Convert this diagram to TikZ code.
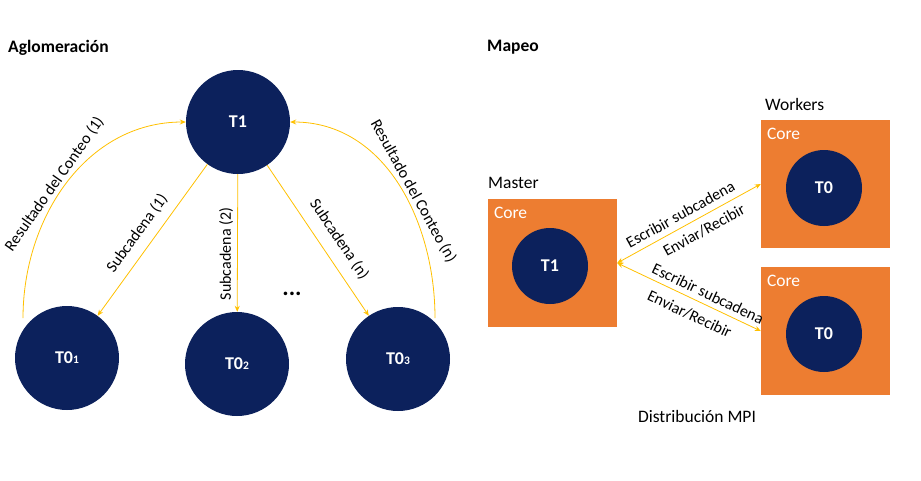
\documentclass[tikz,border=0pt]{standalone}
\usepackage{fontspec}
\setmainfont{Carlito}
\usetikzlibrary{arrows.meta}
\definecolor{navy}{HTML}{0C215C}
\definecolor{orng}{HTML}{ED7D31}
\definecolor{gold}{HTML}{FFC000}
\newcommand{\subn}[1]{{\fontsize{11.5}{11.5}\selectfont #1}}
\begin{document}
\begin{tikzpicture}[x=1pt,y=-1pt,
  task/.style={circle,fill=navy,minimum size=104pt,inner sep=0pt,text=white,font=\fontsize{18}{18}\selectfont\bfseries},
  smalltask/.style={task,minimum size=76pt},
  arr/.style={draw=gold,line width=0.8pt,-{Stealth[length=6pt,width=5pt]}},
  darr/.style={draw=gold,line width=0.8pt,{Stealth[length=6pt,width=5pt]}-{Stealth[length=6pt,width=5pt]}},
  lbl/.style={font=\fontsize{16}{16}\selectfont,inner sep=2pt},
  head/.style={font=\fontsize{17.5}{17.5}\selectfont\bfseries,inner sep=0pt},
  plain/.style={font=\fontsize{17.5}{17.5}\selectfont,inner sep=0pt},
  corebox/.style={rectangle,fill=orng,minimum width=129pt,minimum height=128pt,inner sep=0pt},
  corelbl/.style={font=\fontsize{17.5}{17.5}\selectfont,text=white,inner sep=0pt,anchor=north west}
]
\useasboundingbox (0,0) rectangle (921,480);

% ---------- Aglomeracion ----------
\node[head,anchor=west] (tagl) at (8,48) {Aglomeración};
\node[task] (T1) at (238,122) {T1};
\node[task] (A) at (67,358) {T0\subn{1}};
\node[task] (B) at (237,364) {T0\subn{2}};
\node[task] (C) at (398,359) {T0\subn{3}};
\node[font=\fontsize{24}{24}\selectfont\bfseries] (dots) at (292,294) {...};

\coordinate (s1) at (23,318);
\coordinate (s2) at (435,318);

\draw[arr] (T1) -- node[lbl,pos=0.52,sloped,above=7pt] {Subcadena (1)} (A);
\draw[arr] (T1) -- node[lbl,pos=0.58,rotate=90,anchor=south,inner sep=4pt] {Subcadena (2)} (B);
\draw[arr] (T1) -- node[lbl,pos=0.56,sloped,above=9pt] {Subcadena (n)} (C);
\draw[arr] (s1) to[out=90,in=180] node[lbl,pos=0.47,sloped,above] {Resultado del Conteo (1)} (T1.west);
\draw[arr] (s2) to[out=90,in=0] node[lbl,pos=0.45,sloped,above] {Resultado del Conteo (n)} (T1.east);

% ---------- Mapeo ----------
\node[head,anchor=west] (tmap) at (487,47) {Mapeo};
\node[plain,anchor=west] (tmaster) at (488,183) {Master};
\node[plain,anchor=west] (twork) at (765,104) {Workers};
\node[plain] (tmpi) at (697,416) {Distribución MPI};

\node[corebox] (M) at (552.5,263) {};
\node[corelbl] at ([shift={(6,8)}]M.north west) {Core};
\node[smalltask] (t1m) at (550,266) {T1};

\node[corebox] (W1) at (825.5,184) {};
\node[corelbl] at ([shift={(6,8)}]W1.north west) {Core};
\node[smalltask] (w1t) at (824,188) {T0};

\node[corebox] (W2) at (825.5,331) {};
\node[corelbl] at ([shift={(6,8)}]W2.north west) {Core};
\node[smalltask] (w2t) at (824,334) {T0};

\draw[darr] (M.east) -- node[lbl,pos=0.48,sloped,above=4pt] {Escribir subcadena}
                       node[lbl,pos=0.56,sloped,below=5pt] {Enviar/Recibir} (W1.west);
\draw[darr] (M.east) -- node[lbl,pos=0.6,sloped,above=3pt] {Escribir subcadena}
                       node[lbl,pos=0.55,sloped,below=7pt] {Enviar/Recibir} (W2.west);
\end{tikzpicture}
\end{document}
